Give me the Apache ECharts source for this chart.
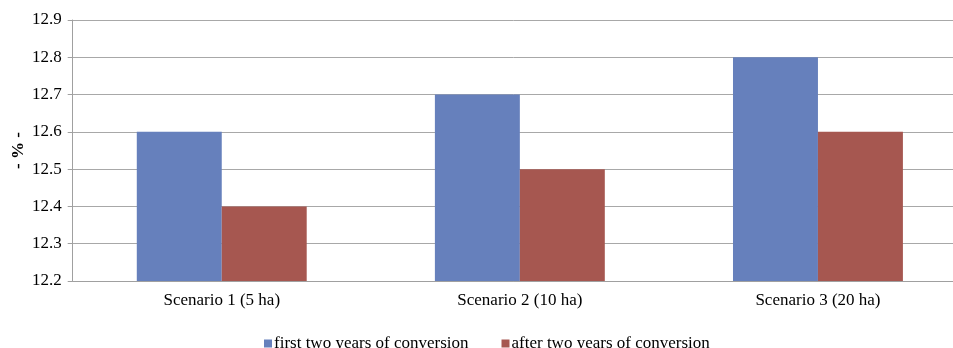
<!DOCTYPE html>
<html>
<head>
<meta charset="utf-8">
<script src="https://cdn.jsdelivr.net/npm/echarts@6/dist/echarts.min.js"></script>
<style>
  html, body { margin: 0; padding: 0; background: #fff; }
  #chart { width: 953px; height: 348px; }
</style>
</head>
<body>
<div id="chart"></div>
<script>
// Share of income (%) by farm size scenario
const categories = ['Scenario 1 (5 ha)', 'Scenario 2 (10 ha)', 'Scenario 3 (20 ha)'];
const firstTwoYears = [12.6, 12.7, 12.8];
const afterTwoYears = [12.4, 12.5, 12.6];
const seriesNames = ['first two years of conversion', 'after two years of conversion'];

const font = '"Liberation Serif", "Times New Roman", serif';
const chart = echarts.init(document.getElementById('chart'), null, { renderer: 'canvas' });

chart.setOption({
  animation: false,
  textStyle: { fontFamily: font },
  grid: { left: 72.7, top: 20, right: -14, bottom: 67, containLabel: false, outerBoundsMode: 'none' },
  legend: {
    data: seriesNames,
    left: 259,
    top: 330,
    itemWidth: 8,
    itemHeight: 8,
    itemGap: 33,
    icon: 'rect',
    textStyle: { fontFamily: font, fontSize: 17, color: '#000', padding: [0, 0, 0, -3] }
  },
  xAxis: {
    type: 'category',
    data: categories,
    axisLine: { lineStyle: { color: '#a0a0a0', width: 1 } },
    axisTick: { show: false },
    axisLabel: { fontFamily: font, fontSize: 17, color: '#000', margin: 11 }
  },
  yAxis: {
    type: 'value',
    min: 12.2,
    max: 12.9,
    interval: 0.1,
    name: '- % -',
    nameLocation: 'middle',
    nameGap: 46,
    nameRotate: 90,
    nameMoveOverlap: false,
    nameTextStyle: { fontFamily: font, fontSize: 17, fontWeight: 'bold', color: '#000' },
    axisLine: { show: true, lineStyle: { color: '#a0a0a0', width: 1 } },
    axisTick: { show: true, length: 5, lineStyle: { color: '#a0a0a0' } },
    axisLabel: {
      fontFamily: font, fontSize: 17, color: '#000', margin: 11,
      formatter: v => v.toFixed(1)
    },
    splitLine: { show: true, lineStyle: { color: '#a8a8a8', width: 1 } }
  },
  series: [
    {
      name: seriesNames[0],
      type: 'bar',
      data: firstTwoYears,
      barGap: '0%',
      barCategoryGap: '43%',
      itemStyle: { color: '#6680BC' }
    },
    {
      name: seriesNames[1],
      type: 'bar',
      data: afterTwoYears,
      itemStyle: { color: '#A65750' }
    }
  ]
});
</script>
</body>
</html>
